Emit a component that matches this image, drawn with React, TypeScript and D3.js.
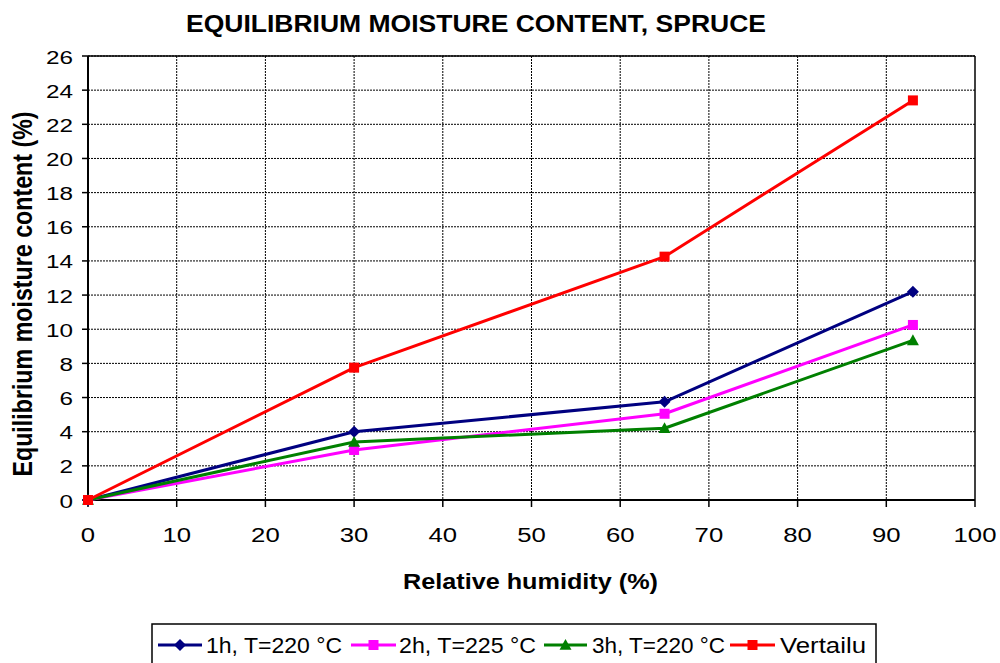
import React from "react";
import * as d3 from "d3";

const humidity = [0, 30, 65, 93];
const series1h = [0, 4.0, 5.75, 12.2];
const series2h = [0, 2.93, 5.05, 10.25];
const series3h = [0, 3.4, 4.2, 9.35];
const seriesRef = [0, 7.75, 14.25, 23.4];
const seriesNames = ["1h, T=220 °C", "2h, T=225 °C", "3h, T=220 °C", "Vertailu"];
const seriesColors = ["#000080", "#FF00FF", "#008000", "#FF0000"];
const seriesMarkers = ["diamond", "square", "triangle", "square"];
const xTicks = [0, 10, 20, 30, 40, 50, 60, 70, 80, 90, 100];
const yTicks = [0, 2, 4, 6, 8, 10, 12, 14, 16, 18, 20, 22, 24, 26];

const FONT = "'Liberation Sans', Arial, sans-serif";

function Marker({ type, x, y, color }: { type: string; x: number; y: number; color: string }) {
  if (type === "diamond") {
    const r = 6;
    return <path d={`M${x},${y - r}L${x + r},${y}L${x},${y + r}L${x - r},${y}Z`} fill={color} />;
  }
  if (type === "triangle") {
    const r = 6;
    return <path d={`M${x},${y - r}L${x + r},${y + r * 0.8}L${x - r},${y + r * 0.8}Z`} fill={color} />;
  }
  return <rect x={x - 5} y={y - 5} width={10} height={10} fill={color} />;
}

export default function App() {
  const left = 88, right = 975, top = 56, bottom = 500;
  const x = d3.scaleLinear().domain([0, 100]).range([left, right]);
  const y = d3.scaleLinear().domain([0, 26]).range([bottom, top]);
  const data = [series1h, series2h, series3h, seriesRef];
  const line = d3.line<number>().x((_, i) => x(humidity[i])).y((d) => y(d));

  const legendLine = [[158, 202], [351, 396], [544, 587], [730, 775]];
  const legendText = [[206, 136], [399, 137], [592, 133], [780, 86]];
  return (
    <svg width={1000} height={663} style={{ position: "absolute", left: 0, top: 0, background: "#fff" }} fontFamily={FONT}>
      <text x={186} y={32} fontSize={23} fontWeight="bold" textLength={580} lengthAdjust="spacingAndGlyphs">EQUILIBRIUM MOISTURE CONTENT, SPRUCE</text>
      {yTicks.map((t) => t > 0 && (
        <line key={"gy" + t} x1={left} x2={right} y1={y(t)} y2={y(t)} stroke="#000" strokeWidth={1} strokeDasharray="2,1" />
      ))}
      {xTicks.map((t) => t > 0 && t < 100 && (
        <line key={"gx" + t} x1={x(t)} x2={x(t)} y1={top} y2={bottom} stroke="#000" strokeWidth={1} strokeDasharray="2,1" />
      ))}
      <line x1={left} x2={right} y1={top} y2={top} stroke="#000" strokeWidth={1.5} />
      <line x1={right} x2={right} y1={top} y2={bottom} stroke="#000" strokeWidth={1.5} />
      <line x1={left} x2={left} y1={top} y2={bottom} stroke="#000" strokeWidth={2} />
      <line x1={left} x2={right} y1={bottom} y2={bottom} stroke="#000" strokeWidth={2} />
      {yTicks.map((t) => {
        const s = String(t);
        return (
          <g key={"ty" + t}>
            <line x1={left - 6} x2={left} y1={y(t)} y2={y(t)} stroke="#000" strokeWidth={1.5} />
            <text x={73 - s.length * 13.5} y={y(t) + 7.5} fontSize={18} textLength={s.length * 13.5} lengthAdjust="spacingAndGlyphs">{s}</text>
          </g>
        );
      })}
      {xTicks.map((t) => {
        const s = String(t);
        const w = s.length * 14.3;
        return (
          <g key={"tx" + t}>
            <line x1={x(t)} x2={x(t)} y1={bottom} y2={bottom + 7} stroke="#000" strokeWidth={1.5} />
            <text x={x(t) - w / 2} y={542} fontSize={20} textLength={w} lengthAdjust="spacingAndGlyphs">{s}</text>
          </g>
        );
      })}
      <text x={403} y={589} fontSize={22} fontWeight="bold" textLength={255} lengthAdjust="spacingAndGlyphs">Relative humidity (%)</text>
      <text transform={`translate(32,${(top + bottom) / 2 + 16}) scale(1.3,1) rotate(-90)`} textAnchor="middle" fontSize={21} fontWeight="bold" textLength={365} lengthAdjust="spacingAndGlyphs">Equilibrium moisture content (%)</text>
      {data.map((s, i) => (
        <g key={"s" + i}>
          <path d={line(s) || ""} fill="none" stroke={seriesColors[i]} strokeWidth={3} strokeLinejoin="round" />
          {s.map((v, j) => (
            <Marker key={j} type={seriesMarkers[i]} x={x(humidity[j])} y={y(v)} color={seriesColors[i]} />
          ))}
        </g>
      ))}
      <rect x={152} y={624} width={724} height={50} fill="#fff" stroke="#000" strokeWidth={1.5} />
      {seriesNames.map((n, i) => (
        <g key={"l" + i}>
          <line x1={legendLine[i][0]} x2={legendLine[i][1]} y1={645} y2={645} stroke={seriesColors[i]} strokeWidth={3} />
          <Marker type={seriesMarkers[i]} x={(legendLine[i][0] + legendLine[i][1]) / 2} y={645} color={seriesColors[i]} />
          <text x={legendText[i][0]} y={652.5} fontSize={22} textLength={legendText[i][1]} lengthAdjust="spacingAndGlyphs">{n}</text>
        </g>
      ))}
    </svg>
  );
}
